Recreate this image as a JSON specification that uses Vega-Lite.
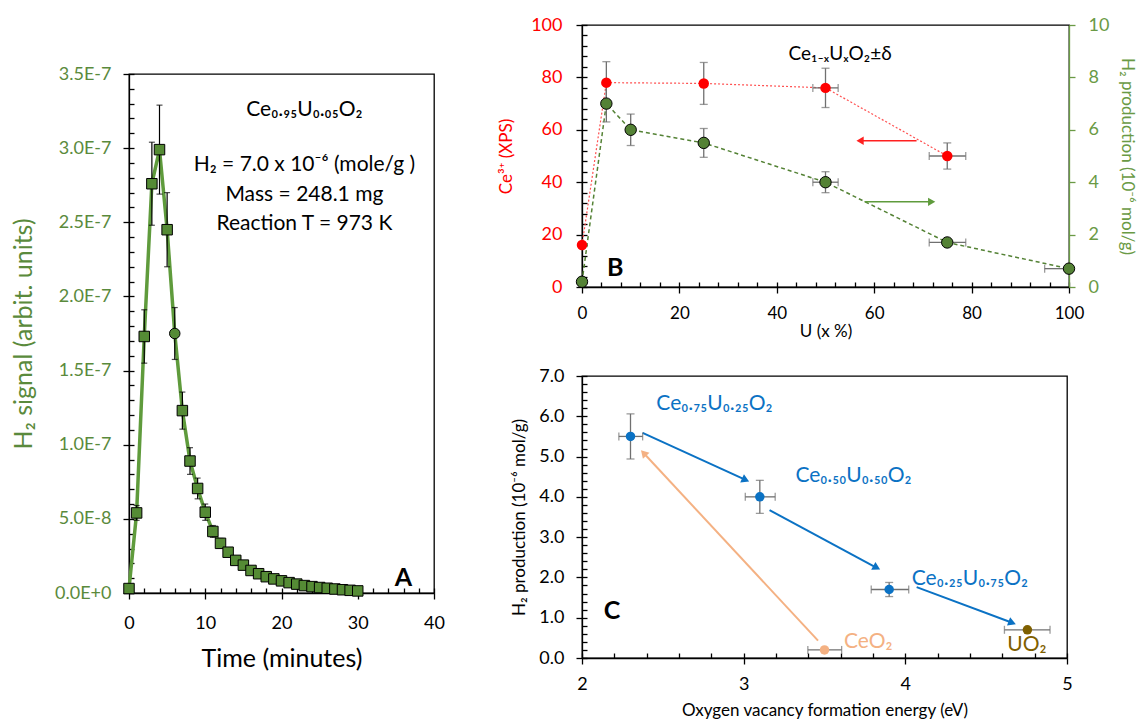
{
 "$schema": "https://vega.github.io/schema/vega-lite/v6.json",
 "padding": {"left": 10, "top": 15, "right": 0, "bottom": 0},
 "background": "white",
 "config": {
  "font": "Lato",
  "view": {"stroke": "#000000", "strokeWidth": 1.3},
  "axis": {"grid": false, "titleFontWeight": "normal", "domainColor": "#000000", "tickColor": "#000000", "domainWidth": 1.3, "tickWidth": 1.3, "labelFont": "Lato", "titleFont": "Lato", "labelFlush": false, "labelOverlap": false}
 },
 "datasets": {
  "a": [
   {"t":0,"h":3e-9,"e":0},{"t":1,"h":5.4e-8,"e":5e-9},{"t":2,"h":1.73e-7,"e":1.8e-8},{"t":3,"h":2.76e-7,"e":2.8e-8},
   {"t":4,"h":2.99e-7,"e":3.0e-8},{"t":5,"h":2.45e-7,"e":2.5e-8},{"t":6,"h":1.75e-7,"e":1.75e-8},{"t":7,"h":1.23e-7,"e":1.25e-8},
   {"t":8,"h":8.9e-8,"e":9e-9},{"t":9,"h":7.05e-8,"e":7e-9},{"t":10,"h":5.45e-8,"e":5.5e-9},{"t":11,"h":4.15e-8,"e":4e-9},
   {"t":12,"h":3.35e-8,"e":3.3e-9},{"t":13,"h":2.75e-8,"e":2.7e-9},{"t":14,"h":2.2e-8,"e":2.2e-9},{"t":15,"h":1.88e-8,"e":1.9e-9},
   {"t":16,"h":1.52e-8,"e":1.5e-9},{"t":17,"h":1.3e-8,"e":1.3e-9},{"t":18,"h":1.1e-8,"e":1.1e-9},{"t":19,"h":9.5e-9,"e":1e-9},
   {"t":20,"h":8.2e-9,"e":8e-10},{"t":21,"h":7e-9,"e":7e-10},{"t":22,"h":6e-9,"e":6e-10},{"t":23,"h":5e-9,"e":5e-10},
   {"t":24,"h":4.3e-9,"e":4e-10},{"t":25,"h":3.7e-9,"e":4e-10},{"t":26,"h":3.2e-9,"e":3e-10},{"t":27,"h":2.7e-9,"e":3e-10},
   {"t":28,"h":2.2e-9,"e":2e-10},{"t":29,"h":1.8e-9,"e":2e-10},{"t":30,"h":1.4e-9,"e":1e-10}
  ],
  "atxt": [
   {"t":23,"v":3.214e-7,"label":"Ce₀.₉₅U₀.₀₅O₂"},
   {"t":23,"v":2.844e-7,"label":"H₂ = 7.0 x  10⁻⁶ (mole/g )"},
   {"t":23,"v":2.646e-7,"label":"Mass = 248.1 mg"},
   {"t":23,"v":2.446e-7,"label":"Reaction T = 973 K"}
  ],
  "bce": [
   {"u":0,"v":16,"e":null},{"u":5,"v":78,"e":8},{"u":25,"v":77.7,"e":8},{"u":50,"v":76,"e":7.5},{"u":75,"v":50,"e":5}
  ],
  "bh2": [
   {"u":0,"v":0.2,"e":null},{"u":5,"v":7.0,"e":0.7},{"u":10,"v":6.0,"e":0.6},{"u":25,"v":5.5,"e":0.55},
   {"u":50,"v":4.0,"e":0.4},{"u":75,"v":1.7,"e":null},{"u":100,"v":0.7,"e":null}
  ],
  "bxe": [
   {"series":"ce","v":76,"lo":47.4,"hi":52.6},{"series":"ce","v":50,"lo":71.3,"hi":78.8},
   {"series":"h2","v":4.0,"lo":47.4,"hi":52.6},{"series":"h2","v":1.7,"lo":71.3,"hi":78.8},{"series":"h2","v":0.7,"lo":95,"hi":100}
  ],
  "barr": [
   {"series":"ce","u1":68.7,"u2":57.1,"v":55.8},
   {"series":"h2","u1":58,"u2":71.8,"v":3.25}
  ],
  "c": [
   {"E":2.3,"h":5.5,"he":0.56,"Elo":2.228,"Ehi":2.375,"kind":"mix"},
   {"E":3.1,"h":4.0,"he":0.41,"Elo":3.01,"Ehi":3.195,"kind":"mix"},
   {"E":3.9,"h":1.7,"he":0.175,"Elo":3.789,"Ehi":4.021,"kind":"mix"},
   {"E":3.5,"h":0.2,"he":null,"Elo":3.397,"Ehi":3.606,"kind":"CeO2"},
   {"E":4.755,"h":0.7,"he":null,"Elo":4.613,"Ehi":4.895,"kind":"UO2"}
  ],
  "carr": [
   {"id":"a1","kind":"mix","E1":2.375,"h1":5.59,"E2":3.012,"h2":4.42},
   {"id":"a2","kind":"mix","E1":3.16,"h1":3.67,"E2":3.823,"h2":2.24},
   {"id":"a3","kind":"mix","E1":4.07,"h1":1.76,"E2":4.661,"h2":0.874},
   {"id":"a4","kind":"CeO2","E1":3.46,"h1":0.43,"E2":2.381,"h2":5.089}
  ],
  "ctxt": [
   {"label":"Ce₀.₇₅U₀.₂₅O₂","E":2.46,"h":6.15,"kind":"mix"},
   {"label":"Ce₀.₅₀U₀.₅₀O₂","E":3.32,"h":4.37,"kind":"mix"},
   {"label":"Ce₀.₂₅U₀.₇₅O₂","E":4.04,"h":1.82,"kind":"mix"},
   {"label":"CeO₂","E":3.62,"h":0.25,"kind":"CeO2"},
   {"label":"UO₂","E":4.63,"h":0.17,"kind":"UO2"}
  ]
 },
 "spacing": 51,
 "hconcat": [
  {
   "spacing": 20,
   "vconcat": [
    {"width": 50, "height": 19, "data": {"values": []}, "mark": "point", "encoding": {}, "view": {"stroke": null}},
    {
     "width": 305, "height": 519,
     "resolve": {"axis": {"x": "independent", "y": "independent"}},
     "layer": [
      {"data": {"name": "a"}, "mark": {"type": "line", "color": "#5f9b3c", "strokeWidth": 3.5},
       "encoding": {
        "x": {"field": "t", "type": "quantitative", "scale": {"domain": [0, 40], "nice": false, "zero": false},
              "axis": {"orient": "bottom", "values": [0,10,20,30,40], "tickSize": 6, "labelFontSize": 18, "labelColor": "#000000", "labelPadding": 15, "title": "Time (minutes)", "titleFontSize": 25, "titleColor": "#000000", "titlePadding": 14}},
        "y": {"field": "h", "type": "quantitative", "scale": {"domain": [0, 3.5e-7], "nice": false},
              "axis": {"orient": "left", "values": [0,5e-8,1e-7,1.5e-7,2e-7,2.5e-7,3e-7,3.5e-7], "labelExpr": "replace(format(datum.value, '.1e'), 'e', 'E')", "tickSize": 6, "labelFontSize": 18, "labelColor": "#5a8a3c", "labelPadding": 12, "title": "H₂ signal (arbit. units)", "titleFontSize": 25, "titleColor": "#5a8a3c", "titlePadding": 18}}
       }},
      {"data": {"name": "a"}, "mark": {"type": "errorbar", "color": "#000000", "thickness": 1.2, "ticks": {"size": 6, "thickness": 1.2, "color": "#000000"}},
       "encoding": {"x": {"field": "t", "type": "quantitative", "axis": null}, "y": {"field": "h", "type": "quantitative", "axis": null}, "yError": {"field": "e"}}},
      {"data": {"name": "a"}, "mark": {"type": "point", "filled": true, "fill": "#558b35", "stroke": "#000000", "strokeWidth": 1, "opacity": 1, "size": 110},
       "encoding": {
        "x": {"field": "t", "type": "quantitative", "axis": {"orient": "bottom", "values": [0,2,4,6,8,10,12,14,16,18,20,22,24,26,28,30,32,34,36,38,40], "tickSize": -5, "labels": false, "domain": false, "title": null}},
        "y": {"field": "h", "type": "quantitative", "axis": {"orient": "left", "values": [0,1e-8,2e-8,3e-8,4e-8,5e-8,6e-8,7e-8,8e-8,9e-8,1e-7,1.1e-7,1.2e-7,1.3e-7,1.4e-7,1.5e-7,1.6e-7,1.7e-7,1.8e-7,1.9e-7,2e-7,2.1e-7,2.2e-7,2.3e-7,2.4e-7,2.5e-7,2.6e-7,2.7e-7,2.8e-7,2.9e-7,3e-7,3.1e-7,3.2e-7,3.3e-7,3.4e-7,3.5e-7], "tickSize": -5, "labels": false, "domain": false, "title": null}},
        "shape": {"condition": {"test": "datum.t === 6", "value": "circle"}, "value": "square"}
       }},
      {"data": {"name": "atxt"}, "mark": {"type": "text", "fontSize": 21, "align": "center", "baseline": "alphabetic", "color": "#000000"},
       "encoding": {"x": {"field": "t", "type": "quantitative", "axis": null}, "y": {"field": "v", "type": "quantitative", "axis": null}, "text": {"field": "label"}}},
      {"data": {"values": [{"t": 36, "v": 9.8e-9, "label": "A"}]}, "mark": {"type": "text", "fontSize": 25, "fontWeight": "bold", "align": "center", "baseline": "middle", "color": "#000000"},
       "encoding": {"x": {"field": "t", "type": "quantitative", "axis": null}, "y": {"field": "v", "type": "quantitative", "axis": null}, "text": {"field": "label"}}}
     ]
    }
   ]
  },
  {
   "spacing": 26,
   "vconcat": [
    {
     "width": 487, "height": 262,
     "resolve": {"scale": {"y": "independent"}, "axis": {"x": "independent", "y": "independent"}},
     "layer": [
      {"data": {"name": "bce"}, "mark": {"type": "line", "color": "#ff5050", "strokeWidth": 1.2, "strokeDash": [2, 2]},
       "encoding": {
        "x": {"field": "u", "type": "quantitative", "scale": {"domain": [0, 100], "nice": false, "zero": false},
              "axis": {"orient": "bottom", "values": [0,20,40,60,80,100], "tickSize": 6, "labelFontSize": 17, "labelColor": "#000000", "labelPadding": 12, "title": "U (x %)", "titleFontSize": 17, "titleColor": "#000000", "titlePadding": 2}},
        "y": {"field": "v", "type": "quantitative", "scale": {"domain": [0, 100], "nice": false},
              "axis": {"orient": "left", "values": [0,20,40,60,80,100], "tickSize": 6, "labelFontSize": 18, "labelColor": "#ff0000", "labelPadding": 14, "title": "Ce³⁺ (XPS)", "titleFontSize": 17, "titleColor": "#ff0000", "titlePadding": 15}}
       }},
      {"data": {"name": "bce"}, "transform": [{"filter": "datum.e != null"}], "mark": {"type": "errorbar", "color": "#707070", "thickness": 1.3, "ticks": {"size": 8, "thickness": 1.3, "color": "#707070"}},
       "encoding": {"x": {"field": "u", "type": "quantitative", "axis": null}, "y": {"field": "v", "type": "quantitative", "scale": {"domain": [0, 100], "nice": false}, "axis": null}, "yError": {"field": "e"}}},
      {"data": {"name": "bxe"}, "transform": [{"filter": "datum.series === 'ce'"}], "mark": {"type": "errorbar", "color": "#707070", "thickness": 1.3, "ticks": {"size": 8, "thickness": 1.3, "color": "#707070"}},
       "encoding": {"x": {"field": "lo", "type": "quantitative", "axis": null}, "x2": {"field": "hi"}, "y": {"field": "v", "type": "quantitative", "scale": {"domain": [0, 100], "nice": false}, "axis": null}}},
      {"data": {"name": "bh2"}, "mark": {"type": "line", "color": "#548235", "strokeWidth": 1.5, "strokeDash": [4, 3]},
       "encoding": {
        "x": {"field": "u", "type": "quantitative", "axis": null},
        "y": {"field": "v", "type": "quantitative", "scale": {"domain": [0, 10], "nice": false},
              "axis": {"orient": "right", "values": [0,2,4,6,8,10], "tickSize": 6, "domainColor": "#6a9a45", "tickColor": "#6a9a45", "labelFontSize": 18, "labelColor": "#6a9a45", "labelPadding": 13, "title": "H₂ production (10⁻⁶ mol/g)", "titleFontSize": 17, "titleColor": "#6a9a45", "titlePadding": 9}}
       }},
      {"data": {"name": "bh2"}, "transform": [{"filter": "datum.e != null"}], "mark": {"type": "errorbar", "color": "#707070", "thickness": 1.3, "ticks": {"size": 8, "thickness": 1.3, "color": "#707070"}},
       "encoding": {"x": {"field": "u", "type": "quantitative", "axis": null}, "y": {"field": "v", "type": "quantitative", "scale": {"domain": [0, 10], "nice": false}, "axis": null}, "yError": {"field": "e"}}},
      {"data": {"name": "bxe"}, "transform": [{"filter": "datum.series === 'h2'"}], "mark": {"type": "errorbar", "color": "#707070", "thickness": 1.3, "ticks": {"size": 8, "thickness": 1.3, "color": "#707070"}},
       "encoding": {"x": {"field": "lo", "type": "quantitative", "axis": null}, "x2": {"field": "hi"}, "y": {"field": "v", "type": "quantitative", "scale": {"domain": [0, 10], "nice": false}, "axis": null}}},
      {"data": {"name": "barr"}, "transform": [{"filter": "datum.series === 'ce'"}], "mark": {"type": "rule", "color": "#ff2020", "strokeWidth": 1.5},
       "encoding": {"x": {"field": "u1", "type": "quantitative", "axis": null}, "x2": {"field": "u2"}, "y": {"field": "v", "type": "quantitative", "scale": {"domain": [0, 100], "nice": false}, "axis": null}}},
      {"data": {"name": "barr"}, "transform": [{"filter": "datum.series === 'ce'"}], "mark": {"type": "point", "shape": "triangle-left", "filled": true, "color": "#ff2020", "opacity": 1, "size": 70},
       "encoding": {"x": {"field": "u2", "type": "quantitative", "axis": null}, "y": {"field": "v", "type": "quantitative", "scale": {"domain": [0, 100], "nice": false}, "axis": null}}},
      {"data": {"name": "barr"}, "transform": [{"filter": "datum.series === 'h2'"}], "mark": {"type": "rule", "color": "#5f9b3c", "strokeWidth": 1.5},
       "encoding": {"x": {"field": "u1", "type": "quantitative", "axis": null}, "x2": {"field": "u2"}, "y": {"field": "v", "type": "quantitative", "scale": {"domain": [0, 10], "nice": false}, "axis": null}}},
      {"data": {"name": "barr"}, "transform": [{"filter": "datum.series === 'h2'"}], "mark": {"type": "point", "shape": "triangle-right", "filled": true, "color": "#5f9b3c", "opacity": 1, "size": 70},
       "encoding": {"x": {"field": "u2", "type": "quantitative", "axis": null}, "y": {"field": "v", "type": "quantitative", "scale": {"domain": [0, 10], "nice": false}, "axis": null}}},
      {"data": {"name": "bh2"}, "mark": {"type": "point", "shape": "circle", "filled": true, "fill": "#548235", "stroke": "#000000", "strokeWidth": 1, "opacity": 1, "size": 130},
       "encoding": {"x": {"field": "u", "type": "quantitative", "axis": null}, "y": {"field": "v", "type": "quantitative", "scale": {"domain": [0, 10], "nice": false}, "axis": null}}},
      {"data": {"name": "bce"}, "mark": {"type": "point", "shape": "circle", "filled": true, "color": "#ff0000", "opacity": 1, "size": 110},
       "encoding": {
        "x": {"field": "u", "type": "quantitative", "axis": {"orient": "bottom", "values": [0,4,8,12,16,20,24,28,32,36,40,44,48,52,56,60,64,68,72,76,80,84,88,92,96,100], "tickSize": -5, "labels": false, "domain": false, "title": null}},
        "y": {"field": "v", "type": "quantitative", "scale": {"domain": [0, 100], "nice": false}, "axis": {"orient": "left", "values": [0,4,8,12,16,20,24,28,32,36,40,44,48,52,56,60,64,68,72,76,80,84,88,92,96,100], "tickSize": -5, "labels": false, "domain": false, "title": null}}
       }},
      {"data": {"values": [{"u": 53, "v": 86.6, "label": "Ce₁₋ₓUₓO₂±δ"}]}, "mark": {"type": "text", "fontSize": 19, "align": "center", "baseline": "alphabetic", "color": "#000000"},
       "encoding": {"x": {"field": "u", "type": "quantitative", "axis": null}, "y": {"field": "v", "type": "quantitative", "scale": {"domain": [0, 100], "nice": false}, "axis": null}, "text": {"field": "label"}}},
      {"data": {"values": [{"u": 6.8, "v": 7.4, "label": "B"}]}, "mark": {"type": "text", "fontSize": 25, "fontWeight": "bold", "align": "center", "baseline": "middle", "color": "#000000"},
       "encoding": {"x": {"field": "u", "type": "quantitative", "axis": null}, "y": {"field": "v", "type": "quantitative", "scale": {"domain": [0, 100], "nice": false}, "axis": null}, "text": {"field": "label"}}}
     ]
    },
    {
     "width": 485, "height": 282,
     "resolve": {"axis": {"x": "independent", "y": "independent"}},
     "layer": [
      {"data": {"name": "carr"}, "mark": {"type": "rule", "strokeWidth": 2},
       "encoding": {
        "x": {"field": "E1", "type": "quantitative", "scale": {"domain": [2, 5], "nice": false, "zero": false},
              "axis": {"orient": "bottom", "values": [2,2.2,2.4,2.6,2.8,3,3.2,3.4,3.6,3.8,4,4.2,4.4,4.6,4.8,5], "tickSize": -5, "labels": false, "domain": false, "title": null}},
        "x2": {"field": "E2"},
        "y": {"field": "h1", "type": "quantitative", "scale": {"domain": [0, 7], "nice": false},
              "axis": {"orient": "left", "values": [0,0.2,0.4,0.6,0.8,1,1.2,1.4,1.6,1.8,2,2.2,2.4,2.6,2.8,3,3.2,3.4,3.6,3.8,4,4.2,4.4,4.6,4.8,5,5.2,5.4,5.6,5.8,6,6.2,6.4,6.6,6.8,7], "tickSize": -5, "labels": false, "domain": false, "title": null}},
        "y2": {"field": "h2"},
        "color": {"field": "kind", "type": "nominal", "scale": {"domain": ["mix", "CeO2", "UO2"], "range": ["#0b72c4", "#f4b183", "#7f6000"]}, "legend": null}
       }},
      {"data": {"name": "carr"}, "mark": {"type": "point", "shape": "triangle-up", "filled": true, "opacity": 1, "size": 80},
       "encoding": {
        "x": {"field": "E2", "type": "quantitative", "axis": null},
        "y": {"field": "h2", "type": "quantitative", "axis": null},
        "color": {"field": "kind", "type": "nominal", "legend": null},
        "angle": {"condition": [{"test": "datum.id === 'a1'", "value": 114.6}, {"test": "datum.id === 'a2'", "value": 118.4}, {"test": "datum.id === 'a3'", "value": 110.5}], "value": 317.2}
       }},
      {"data": {"name": "c"}, "transform": [{"filter": "datum.he != null"}], "mark": {"type": "errorbar", "color": "#707070", "thickness": 1.3, "ticks": {"size": 8, "thickness": 1.3, "color": "#707070"}},
       "encoding": {"x": {"field": "E", "type": "quantitative", "axis": null}, "y": {"field": "h", "type": "quantitative", "axis": null}, "yError": {"field": "he"}}},
      {"data": {"name": "c"}, "mark": {"type": "errorbar", "color": "#707070", "thickness": 1.3, "ticks": {"size": 8, "thickness": 1.3, "color": "#707070"}},
       "encoding": {"x": {"field": "Elo", "type": "quantitative", "axis": null}, "x2": {"field": "Ehi"}, "y": {"field": "h", "type": "quantitative", "axis": null}}},
      {"data": {"name": "c"}, "mark": {"type": "point", "shape": "circle", "filled": true, "opacity": 1, "size": 90},
       "encoding": {
        "x": {"field": "E", "type": "quantitative",
              "axis": {"orient": "bottom", "values": [2,3,4,5], "tickSize": 6, "labelFontSize": 18, "labelColor": "#000000", "labelPadding": 11, "title": "Oxygen vacancy formation energy (eV)", "titleFontSize": 17, "titleColor": "#000000", "titlePadding": 9}},
        "y": {"field": "h", "type": "quantitative",
              "axis": {"orient": "left", "values": [0,1,2,3,4,5,6,7], "format": ".1f", "tickSize": 6, "labelFontSize": 18, "labelColor": "#000000", "labelPadding": 12, "title": "H₂ production (10⁻⁶ mol/g)", "titleFontSize": 17, "titleColor": "#000000", "titlePadding": 10}},
        "color": {"field": "kind", "type": "nominal", "legend": null}
       }},
      {"data": {"name": "ctxt"}, "mark": {"type": "text", "fontSize": 21, "align": "left", "baseline": "alphabetic"},
       "encoding": {"x": {"field": "E", "type": "quantitative", "axis": null}, "y": {"field": "h", "type": "quantitative", "axis": null}, "text": {"field": "label"}, "color": {"field": "kind", "type": "nominal", "legend": null}}},
      {"data": {"values": [{"E": 2.185, "h": 1.16, "label": "C"}]}, "mark": {"type": "text", "fontSize": 25, "fontWeight": "bold", "align": "center", "baseline": "middle", "color": "#000000"},
       "encoding": {"x": {"field": "E", "type": "quantitative", "axis": null}, "y": {"field": "h", "type": "quantitative", "axis": null}, "text": {"field": "label"}}}
     ]
    }
   ]
  }
 ]
}
